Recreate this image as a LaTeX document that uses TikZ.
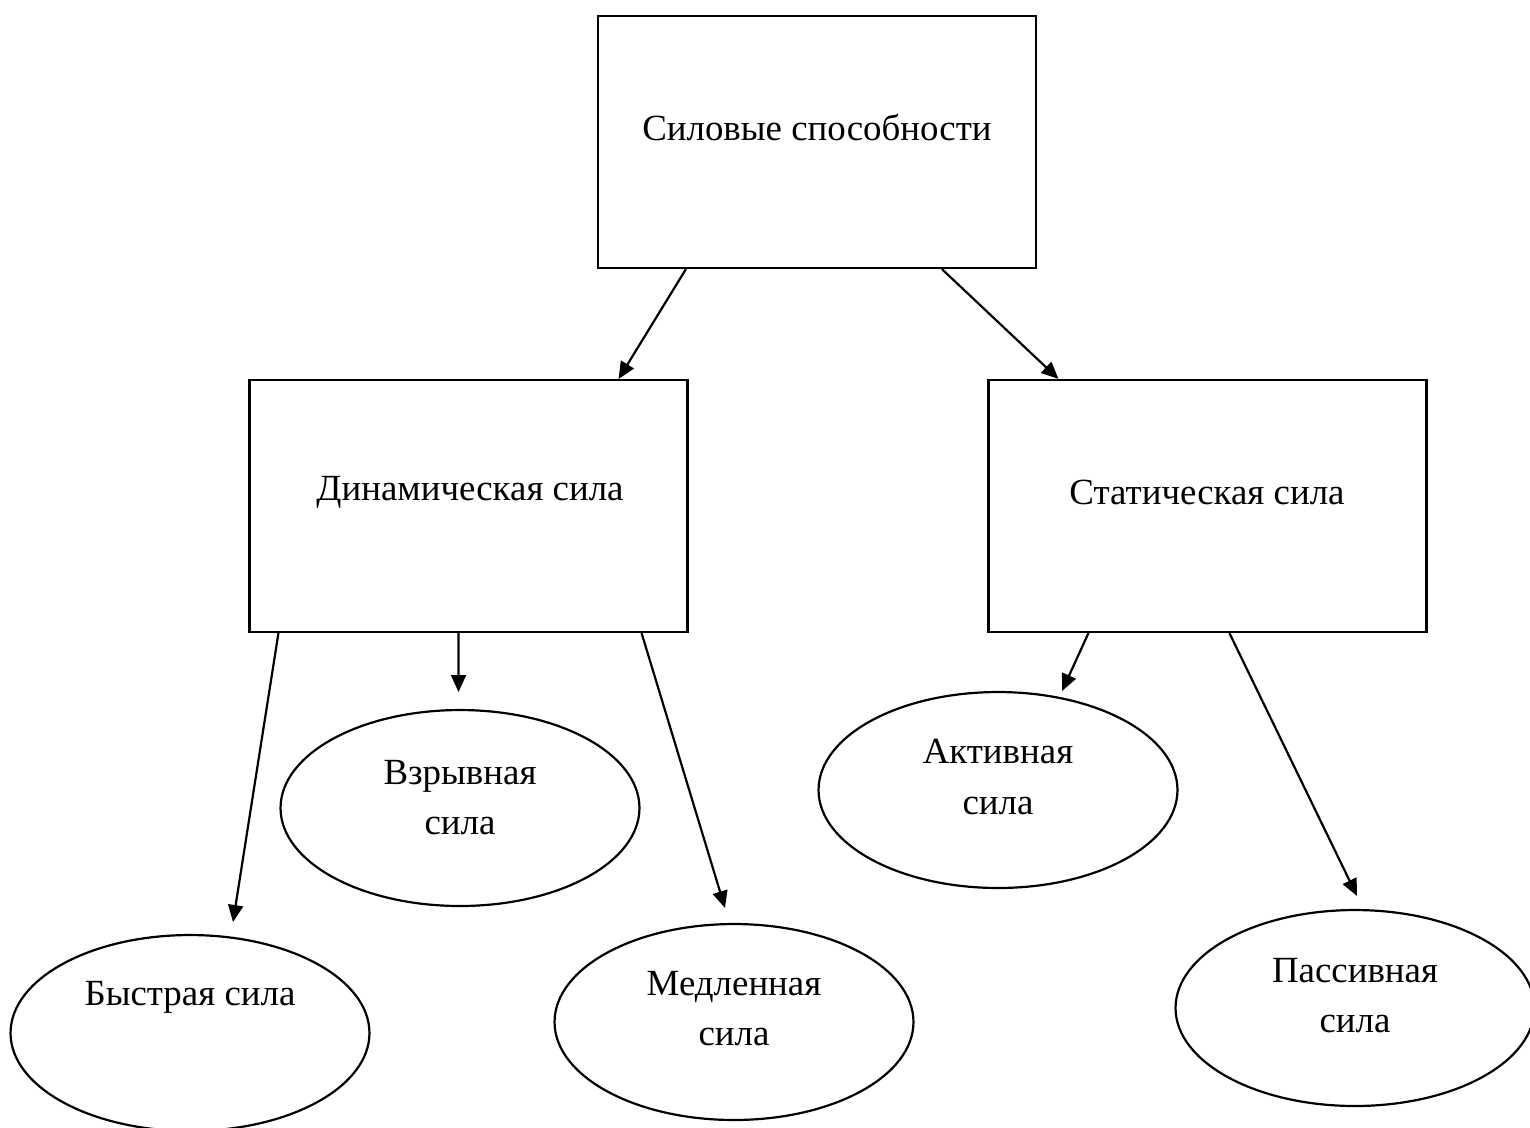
\documentclass[tikz,border=0pt]{standalone}
\usepackage{fontspec}
\setmainfont{Liberation Serif}
\usetikzlibrary{arrows.meta,shapes.geometric}
\newcommand{\bw}{8.76cm}
\newcommand{\bh}{5.04cm}
\newcommand{\ew}{7.18cm}
\newcommand{\eh}{3.92cm}
\newcommand{\lw}{1.25pt}
\begin{document}
\begin{tikzpicture}[x=0.02cm,y=-0.02cm,
  box/.style={draw,line width=\lw,minimum width=\bw,minimum height=\bh,inner sep=0pt},
  oval/.style={draw,ellipse,line width=\lw,minimum width=\ew,minimum height=\eh,inner sep=0pt},
  txt/.style={align=center,inner sep=0pt,font=\fontsize{21}{28.5}\selectfont},
  arr/.style={-{Triangle[length=0.34cm,width=0.3cm]},line width=\lw}]
  \useasboundingbox (0,0) rectangle (1530,1127);
  % boxes
  \node[box] (top) at (817,142) {};
  \node[box] (dyn) at (468.5,506) {};
  \node[box] (stat) at (1207.5,506) {};
  \node[txt] (topT) at (817,127) {Силовые способности};
  \node[txt] (dynT) at (470,492) {Динамическая сила};
  \node[txt] (statT) at (1207,492) {Статическая сила};
  % ovals
  \node[oval] (fast) at (190,1033) {};
  \node[oval] (expl) at (460,808) {};
  \node[oval] (slow) at (734,1022) {};
  \node[oval] (act) at (998,790) {};
  \node[oval] (pas) at (1355,1008) {};
  \node[txt] (fastT) at (190,997) {Быстрая сила};
  \node[txt] (explT) at (460,798) {Взрывная\\сила};
  \node[txt] (slowT) at (734,1009) {Медленная\\сила};
  \node[txt] (actT) at (998,777) {Активная\\сила};
  \node[txt] (pasT) at (1355,996) {Пассивная\\сила};
  % arrow ends
  \coordinate (fastA) at (233,922);
  \coordinate (explA) at (458.5,692);
  \coordinate (slowA) at (725,908);
  \coordinate (actA) at (1062,691);
  \coordinate (pasA) at (1357,896);
  \draw[arr] ([xshift=1.78cm]top.south west) -- ([xshift=-1.4cm]dyn.north east);
  \draw[arr] ([xshift=6.9cm]top.south west) -- ([xshift=1.42cm]stat.north west);
  \draw[arr] ([xshift=0.6cm]dyn.south west) -- (fastA);
  \draw[arr] ([xshift=-0.2cm]dyn.south) -- (explA);
  \draw[arr] ([xshift=-0.94cm]dyn.south east) -- (slowA);
  \draw[arr] ([xshift=2.02cm]stat.south west) -- (actA);
  \draw[arr] ([xshift=4.84cm]stat.south west) -- (pasA);
\end{tikzpicture}
\end{document}
